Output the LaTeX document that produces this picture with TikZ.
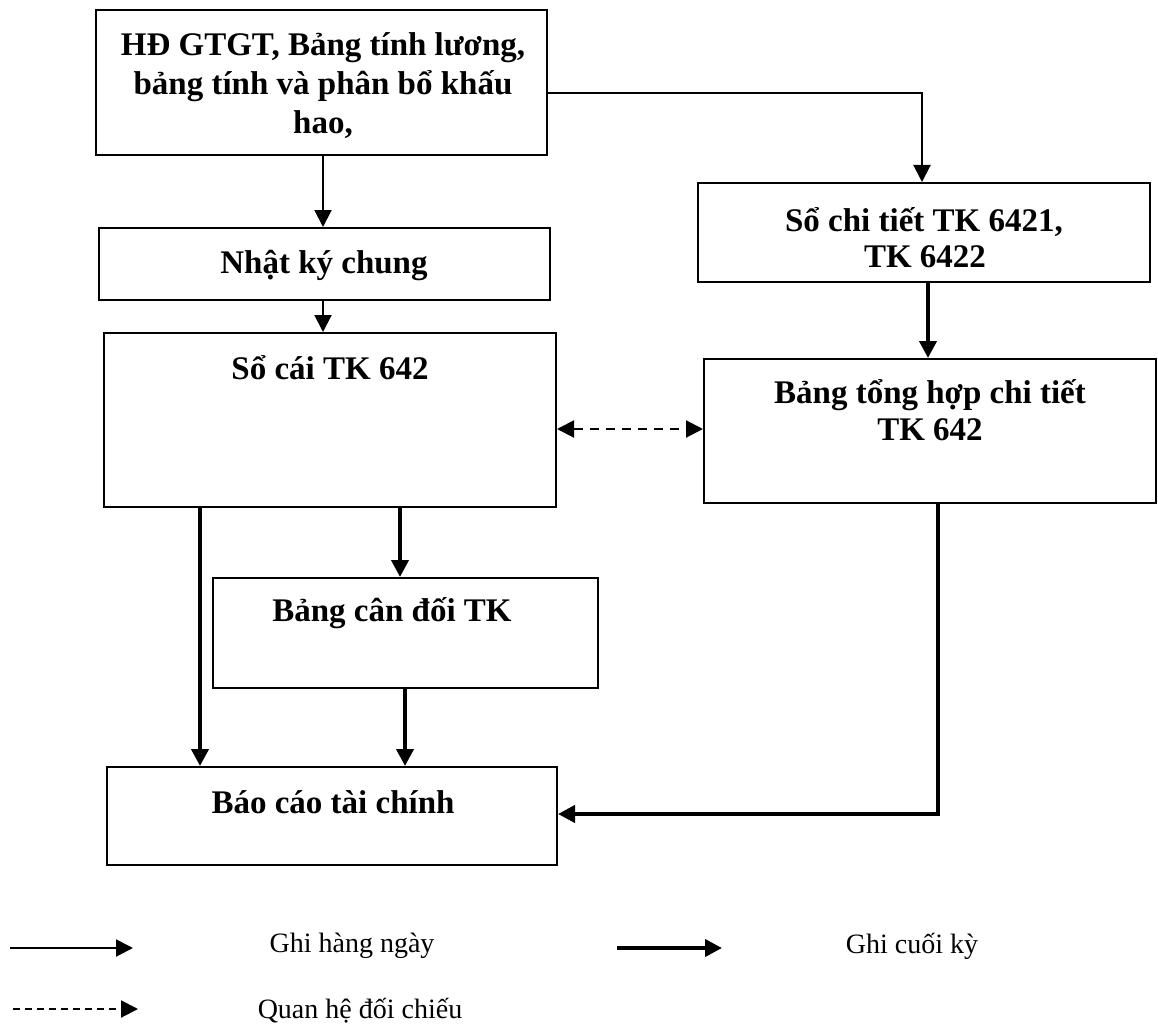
\documentclass[tikz,border=0pt]{standalone}
\usepackage{fontspec}
\setmainfont{Liberation Serif}
\usetikzlibrary{arrows.meta}
\begin{document}
\begin{tikzpicture}[x=1pt,y=-1pt,
  box/.style={draw,line width=2pt,inner sep=0pt},
  lbl/.style={anchor=base,inner sep=0pt,font=\fontsize{33}{38}\selectfont\bfseries},
  leg/.style={anchor=base,inner sep=0pt,font=\fontsize{28}{32}\selectfont},
  tip/.tip={Triangle[length=17pt,width=17pt]},
  daily/.style={line width=2pt,-tip},
  final/.style={line width=4pt,-tip},
  cross/.style={line width=2pt,dash pattern=on 9pt off 7pt,tip-tip}]
\useasboundingbox (0,0) rectangle (1158,1027);

% boxes
\node[box,minimum width=451pt,minimum height=145pt] (src)   at (321.5,82.5) {};
\node[box,minimum width=451pt,minimum height=72pt]  (nkc)   at (324.5,264)  {};
\node[box,minimum width=452pt,minimum height=99pt]  (sct)   at (924,232.5)  {};
\node[box,minimum width=452pt,minimum height=174pt] (socai) at (330,420)    {};
\node[box,minimum width=452pt,minimum height=144pt] (bth)   at (930,431)    {};
\node[box,minimum width=385pt,minimum height=110pt] (bcd)   at (405.5,633)  {};
\node[box,minimum width=450pt,minimum height=98pt]  (bctc)  at (332,816)    {};

% box texts
\node[lbl] (t1) at (323,56)  {HĐ GTGT, Bảng tính lương,};
\node[lbl] (t2) at (323,95)  {bảng tính và phân bổ khấu};
\node[lbl] (t3) at (323,134) {hao,};
\node[lbl] (t4) at (324,273) {Nhật ký chung};
\node[lbl] (t5) at (924,231) {Sổ chi tiết TK 6421,};
\node[lbl] (t6) at (925,267) {TK 6422};
\node[lbl] (t7) at (330,379) {Sổ cái TK 642};
\node[lbl] (t8) at (930,403) {Bảng tổng hợp chi tiết};
\node[lbl] (t9) at (930,440) {TK 642};
\node[lbl] (t10) at (392,621) {Bảng cân đối TK};
\node[lbl] (t11) at (333,813) {Báo cáo tài chính};

% connectors
\draw[daily] ([xshift=1.5pt]src.south) -- ([xshift=1.5pt]src.south |- nkc.north);
\draw[daily] ([yshift=-10.5pt]src.east) -| ([xshift=-2pt]sct.north);
\draw[daily] ([xshift=-1.5pt]nkc.south) -- ([xshift=-1.5pt]nkc.south |- socai.north);
\draw[final] ([xshift=4pt]sct.south) -- ([xshift=4pt]sct.south |- bth.north);
\draw[cross] (socai.east |- 0,429) -- (bth.west |- 0,429);
\draw[final] (socai.south -| 200,0) -- (bctc.north -| 200,0);
\draw[final] (socai.south -| 400,0) -- (bcd.north -| 400,0);
\draw[final] (bcd.south -| 405,0) -- (bctc.north -| 405,0);
\draw[final] (bth.south -| 938,0) |- (bctc.east |- 0,814);

% legend
\coordinate (la1) at (10,948);   \coordinate (la2) at (133,948);
\coordinate (lb1) at (617,948);  \coordinate (lb2) at (722,948);
\coordinate (lc1) at (13,1009);  \coordinate (lc2) at (138,1009);
\draw[daily] (la1) -- (la2);
\draw[final] (lb1) -- (lb2);
\draw[line width=2pt,dash pattern=on 7pt off 5pt,-tip] (lc1) -- (lc2);
\node[leg] (g1) at (352,952)  {Ghi hàng ngày};
\node[leg] (g2) at (912,953)  {Ghi cuối kỳ};
\node[leg] (g3) at (360,1018) {Quan hệ đối chiếu};
\end{tikzpicture}
\end{document}
